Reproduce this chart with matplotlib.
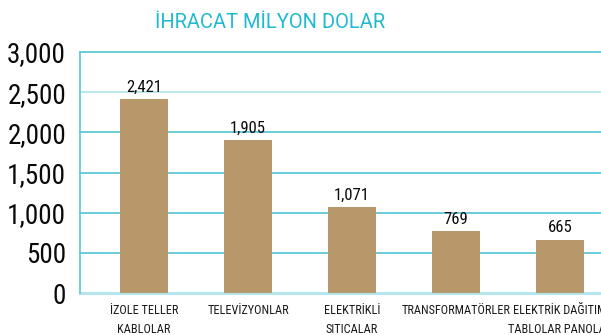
import matplotlib
matplotlib.use("Agg")
import matplotlib.pyplot as plt
import numpy as np

categories = ["İZOLE TELLER\nKABLOLAR", "TELEVİZYONLAR", "ELEKTRİKLİ\nSITICALAR",
              "TRANSFORMATÖRLER", "ELEKTRİK DAĞITIM\nTABLOLAR PANOLAR"]
values = [2421, 1905, 1071, 769, 665]
value_labels = ["2,421", "1,905", "1,071", "769", "665"]
yticks = [0, 500, 1000, 1500, 2000, 2500, 3000]
ytick_labels = ["0", "500", "1,000", "1,500", "2,000", "2,500", "3,000"]
title = "İHRACAT MİLYON DOLAR"

FONT = ["Roboto Condensed", "Barlow Condensed", "DejaVu Sans"]
TITLE_FONT = ["Roboto", "DejaVu Sans"]
BAR = "#b8986a"
GRID = "#5cc8d6"
GRID_LIGHT = "#b5e5ec"
TITLE_C = "#1fbad0"

fig = plt.figure(figsize=(6.01, 3.35), dpi=100)
ax = fig.add_axes([80 / 601, 42 / 335, 1 - 80 / 601, 241 / 335])

x = np.arange(len(categories))
ax.bar(x, values, width=0.46, color=BAR, zorder=3)

ax.set_xlim(-0.615, len(categories) - 1 + 0.394)
ax.set_ylim(0, 3000)

for yv in yticks:
    light = yv in (0, 2500)
    ax.axhline(yv, color=GRID_LIGHT if light else GRID,
               lw=2.2 if yv == 0 else 1.3, zorder=1, clip_on=False)

for s in ["top", "right", "bottom"]:
    ax.spines[s].set_visible(False)
ax.spines["left"].set_color(GRID)
ax.spines["left"].set_linewidth(1.2)

ax.set_yticks(yticks)
ax.set_yticklabels(ytick_labels, fontfamily=FONT, fontsize=19.5, color="#0a0a0a")
ax.tick_params(axis="y", length=0, pad=10)

ax.set_xticks(x)
ax.set_xticklabels(categories, fontfamily=FONT, fontsize=8.8, color="#1a1a1a",
                   linespacing=1.6, va="top")
ax.tick_params(axis="x", length=0, pad=8)

for xi, v, lab in zip(x, values, value_labels):
    ax.annotate(lab, (xi, v), xytext=(0, 3), textcoords="offset points",
                ha="center", va="bottom", fontfamily=FONT, fontsize=12,
                color="#0a0a0a")

fig.text(270 / 601, 1 - 23 / 335, title, ha="center", va="center",
         fontfamily=TITLE_FONT, fontsize=14.5, color=TITLE_C)

fig.savefig("out.png", dpi=100)
